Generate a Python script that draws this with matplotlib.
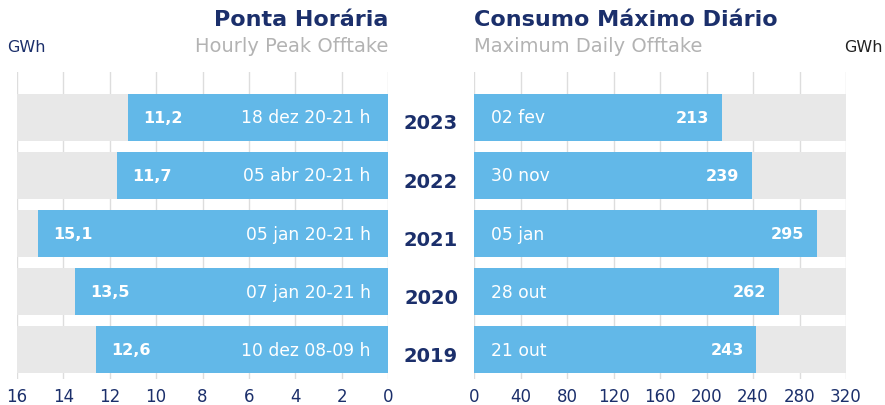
import matplotlib
matplotlib.use("Agg")
import matplotlib.pyplot as plt

years = ["2019", "2020", "2021", "2022", "2023"]
peak_values = [12.6, 13.5, 15.1, 11.7, 11.2]
peak_labels = ["12,6", "13,5", "15,1", "11,7", "11,2"]
peak_dates = ["10 dez 08-09 h", "07 jan 20-21 h", "05 jan 20-21 h", "05 abr 20-21 h", "18 dez 20-21 h"]
daily_values = [243, 262, 295, 239, 213]
daily_labels = ["243", "262", "295", "239", "213"]
daily_dates = ["21 out", "28 out", "05 jan", "30 nov", "02 fev"]
left_ticks = [16, 14, 12, 10, 8, 6, 4, 2, 0]
right_ticks = [0, 40, 80, 120, 160, 200, 240, 280, 320]

NAVY = "#1b2f6b"
BLUE = "#62b8e8"
GRAY = "#e8e8e8"
GRID = "#dddddd"
SUB = "#b3b3b3"

plt.rcParams['font.family'] = ['DejaVu Sans']

fig = plt.figure(figsize=(8.85, 4.06), dpi=100)
W, H = 885, 406
bot = 1 - 380 / H
top = 1 - 73 / H
axL = fig.add_axes([17 / W, bot, (388 - 17) / W, top - bot])
axR = fig.add_axes([474 / W, bot, (846 - 474) / W, top - bot])

ypos = list(range(len(years)))
bh = 0.81

for ax, ticks, vmax in [(axL, left_ticks, 16), (axR, right_ticks, 320)]:
    ax.set_axisbelow(True)
    ax.set_xticks(ticks)
    ax.grid(axis='x', color=GRID, linewidth=1)
    ax.grid(axis='y', visible=False)
    ax.set_ylim(-0.5, 4.78)
    ax.set_yticks([])
    ax.patch.set_alpha(0)
    for s in ax.spines.values():
        s.set_visible(False)
    ax.tick_params(axis='x', length=0, colors=NAVY, labelsize=12, pad=6)
    ax.barh(ypos, [vmax] * len(ypos), height=bh, color=GRAY, zorder=2)

axL.set_xlim(16, 0)
axR.set_xlim(0, 320)

axL.barh(ypos, peak_values, height=bh, color=BLUE, zorder=3)
axR.barh(ypos, daily_values, height=bh, color=BLUE, zorder=3)

for y, v, lab, d in zip(ypos, peak_values, peak_labels, peak_dates):
    axL.text(v - 0.65, y, lab, color="white", fontsize=11.5, fontweight='bold',
             ha='left', va='center', zorder=4)
    axL.text(0.75, y, d, color="white", fontsize=12.3, ha='right', va='center', zorder=4)

for y, v, lab, d in zip(ypos, daily_values, daily_labels, daily_dates):
    axR.text(15, y, d, color="white", fontsize=12.3, ha='left', va='center', zorder=4)
    axR.text(v - 11, y, lab, color="white", fontsize=11.5, fontweight='bold',
             ha='right', va='center', zorder=4)

for y, yr in zip(ypos, years):
    axL.annotate(yr, xy=(1, y), xycoords=('axes fraction', 'data'),
                 xytext=(31, -4), textcoords='offset points', ha='center', va='center',
                 fontsize=14, fontweight='heavy', color=NAVY, annotation_clip=False, zorder=10)

fig.text(388 / W, 1 - 20 / H, "Ponta Horária", ha='right', va='center',
         fontsize=16, fontweight='bold', color=NAVY)
fig.text(388 / W, 1 - 47 / H, "Hourly Peak Offtake", ha='right', va='center',
         fontsize=14, color=SUB)
fig.text(474 / W, 1 - 20 / H, "Consumo Máximo Diário", ha='left', va='center',
         fontsize=16, fontweight='bold', color=NAVY)
fig.text(474 / W, 1 - 47 / H, "Maximum Daily Offtake", ha='left', va='center',
         fontsize=14, color=SUB)
fig.text(7 / W, 1 - 47 / H, "GWh", ha='left', va='center', fontsize=11.5, color=NAVY)
fig.text(883 / W, 1 - 47 / H, "GWh", ha='right', va='center', fontsize=11.5, color="#222222")

fig.savefig("out.png", dpi=100)
